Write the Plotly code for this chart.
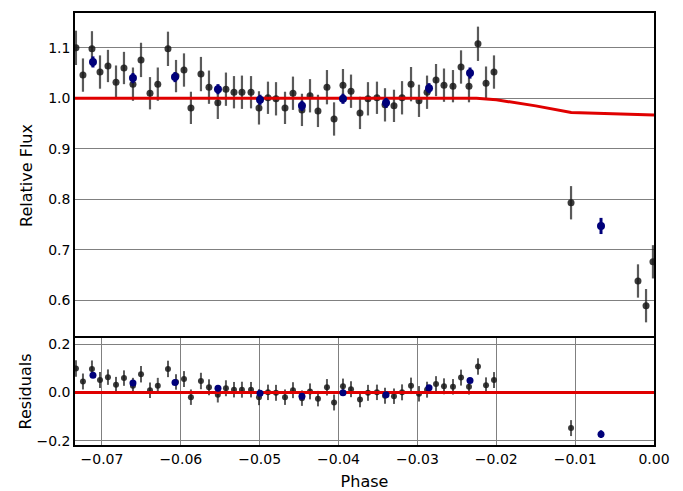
import plotly.graph_objects as go

# ---------------- data ----------------
phase = [-0.07330, -0.07241, -0.07127, -0.07025, -0.06924, -0.06822, -0.06721, -0.06607,
         -0.06505, -0.06391, -0.06292, -0.06163, -0.06061, -0.05960, -0.05872, -0.05745,
         -0.05643, -0.05531, -0.05428, -0.05326, -0.05225, -0.05110, -0.05009, -0.04895,
         -0.04793, -0.04679, -0.04578, -0.04464, -0.04362, -0.04261, -0.04147, -0.04057,
         -0.03944, -0.03842, -0.03728, -0.03627, -0.03513, -0.03411, -0.03297, -0.03195,
         -0.03081, -0.02980, -0.02878, -0.02764, -0.02663, -0.02549, -0.02447, -0.02346,
         -0.02232, -0.02130, -0.02029, -0.01052, -0.00203, -0.00101, -0.00013]
flux = [1.100, 1.046, 1.098, 1.052, 1.064, 1.032, 1.060, 1.028,
        1.076, 1.010, 1.028, 1.098, 1.044, 1.056, 0.981, 1.048,
        1.022, 0.991, 1.018, 1.012, 1.012, 1.012, 0.981, 1.001,
        0.999, 0.981, 1.010, 0.977, 1.005, 0.975, 1.022, 0.959,
        1.026, 1.014, 0.971, 0.999, 1.001, 0.987, 0.985, 1.001,
        1.028, 0.995, 1.012, 1.036, 1.026, 1.024, 1.062, 1.024,
        1.108, 1.030, 1.052, 0.793, 0.638, 0.589, 0.676]
flux_err = [0.034, 0.033, 0.035, 0.033, 0.032, 0.033, 0.032, 0.033,
            0.034, 0.032, 0.033, 0.034, 0.032, 0.033, 0.032, 0.034,
            0.033, 0.032, 0.033, 0.032, 0.033, 0.032, 0.033, 0.032,
            0.033, 0.032, 0.033, 0.032, 0.033, 0.032, 0.034, 0.033,
            0.032, 0.033, 0.032, 0.033, 0.032, 0.033, 0.032, 0.033,
            0.034, 0.032, 0.033, 0.032, 0.033, 0.032, 0.033, 0.032,
            0.034, 0.033, 0.033, 0.033, 0.033, 0.033, 0.033]
resid = [0.100, 0.046, 0.098, 0.052, 0.064, 0.032, 0.060, 0.028,
         0.076, 0.010, 0.028, 0.098, 0.044, 0.056, -0.019, 0.048,
         0.022, -0.009, 0.018, 0.012, 0.012, 0.012, -0.019, 0.001,
         -0.001, -0.019, 0.010, -0.023, 0.005, -0.025, 0.022, -0.041,
         0.026, 0.014, -0.029, -0.001, 0.001, -0.013, -0.015, 0.001,
         0.028, -0.005, 0.012, 0.036, 0.026, 0.024, 0.062, 0.024,
         0.108, 0.030, 0.052, -0.147, -0.330, -0.380, -0.262]

bin_phase = [-0.07114, -0.06607, -0.06074, -0.05529, -0.04996, -0.04464,
             -0.03944, -0.03398, -0.02853, -0.02333, -0.00672]
bin_flux = [1.072, 1.040, 1.042, 1.018, 0.997, 0.985,
            0.999, 0.991, 1.020, 1.050, 0.747]
bin_err = [0.011, 0.010, 0.010, 0.010, 0.010, 0.010,
           0.010, 0.010, 0.010, 0.011, 0.016]
bin_resid = [0.072, 0.040, 0.042, 0.018, -0.003, -0.015,
             -0.001, -0.009, 0.020, 0.050, -0.172]

model_phase = [-0.0735, -0.0225, -0.0200, -0.0150, -0.0105, -0.0070, 0.0000]
model_flux = [1.000, 1.000, 0.997, 0.985, 0.972, 0.970, 0.967]
resid_model_phase = [-0.0735, 0.0000]
resid_model = [0.0, 0.0]

x_ticks = [-0.07, -0.06, -0.05, -0.04, -0.03, -0.02, -0.01, 0.00]
flux_ticks = [0.6, 0.7, 0.8, 0.9, 1.0, 1.1]
resid_ticks = [-0.2, 0.0, 0.2]

# ---------------- figure ----------------
FONT = "DejaVu Sans"
# page body has an 8 px margin, so the figure is 8 px smaller each way
W, H = 675, 483
ml, mr, mt, mb = 67, 29, 5, 46
plot_h = H - mt - mb
split = (445 - 338) / plot_h

fig = go.Figure()

pt_marker = dict(color="rgba(25,25,25,0.85)", size=7)
pt_err_col = "rgba(35,35,35,0.75)"
bin_col = "#00007a"
red = "#e00000"

# top panel
fig.add_trace(go.Scatter(x=phase, y=flux, mode="markers", marker=pt_marker,
                         error_y=dict(type="data", array=flux_err, color=pt_err_col,
                                      thickness=2.2, width=0),
                         showlegend=False, xaxis="x", yaxis="y"))
fig.add_trace(go.Scatter(x=model_phase, y=model_flux, mode="lines",
                         line=dict(color=red, width=3), showlegend=False,
                         xaxis="x", yaxis="y"))
fig.add_trace(go.Scatter(x=bin_phase, y=bin_flux, mode="markers",
                         marker=dict(color=bin_col, size=8),
                         error_y=dict(type="data", array=bin_err, color=bin_col,
                                      thickness=3, width=0),
                         showlegend=False, xaxis="x", yaxis="y"))

# residual panel
fig.add_trace(go.Scatter(x=phase, y=resid, mode="markers",
                         marker=dict(color="rgba(25,25,25,0.85)", size=6),
                         error_y=dict(type="data", array=flux_err, color=pt_err_col,
                                      thickness=2, width=0),
                         showlegend=False, xaxis="x2", yaxis="y2"))
fig.add_trace(go.Scatter(x=resid_model_phase, y=resid_model, mode="lines",
                         line=dict(color=red, width=3), showlegend=False,
                         xaxis="x2", yaxis="y2"))
fig.add_trace(go.Scatter(x=bin_phase, y=bin_resid, mode="markers",
                         marker=dict(color=bin_col, size=7),
                         error_y=dict(type="data", array=bin_err, color=bin_col,
                                      thickness=2.5, width=0),
                         showlegend=False, xaxis="x2", yaxis="y2"))

axis_common = dict(showline=True, linecolor="black", linewidth=1.5,
                   ticks="", zeroline=False, automargin=False,
                   tickfont=dict(family=FONT, size=14, color="black"))
grid = dict(showgrid=True, gridcolor="#808080", gridwidth=1)
title_font = dict(family=FONT, size=16, color="black")

fig.update_layout(
    width=W, height=H, margin=dict(l=ml, r=mr, t=mt, b=mb),
    paper_bgcolor="white", plot_bgcolor="white",
    font=dict(family=FONT, color="black"),
    xaxis=dict(domain=[0, 1], anchor="y", side="top", range=[-0.07342, 0.0],
               tickvals=x_ticks, showgrid=False, showticklabels=False,
               mirror=False, **axis_common),
    yaxis=dict(domain=[split, 1], anchor="x", range=[0.525, 1.169], tickvals=flux_ticks,
               tickformat=".1f", mirror=True,
               title=dict(text="Relative Flux", font=title_font, standoff=12),
               **grid, **axis_common),
    xaxis2=dict(domain=[0, 1], anchor="y2", matches="x", range=[-0.07342, 0.0],
                tickvals=x_ticks, tickformat=".2f", mirror=True,
                title=dict(text="Phase", font=title_font, standoff=10),
                **grid, **axis_common),
    yaxis2=dict(domain=[0, split], anchor="x2", range=[-0.217, 0.226], tickvals=resid_ticks,
                tickformat=".1f", mirror=True,
                title=dict(text="Residuals", font=title_font, standoff=1),
                **grid, **axis_common),
)

fig.write_html("out.html")
